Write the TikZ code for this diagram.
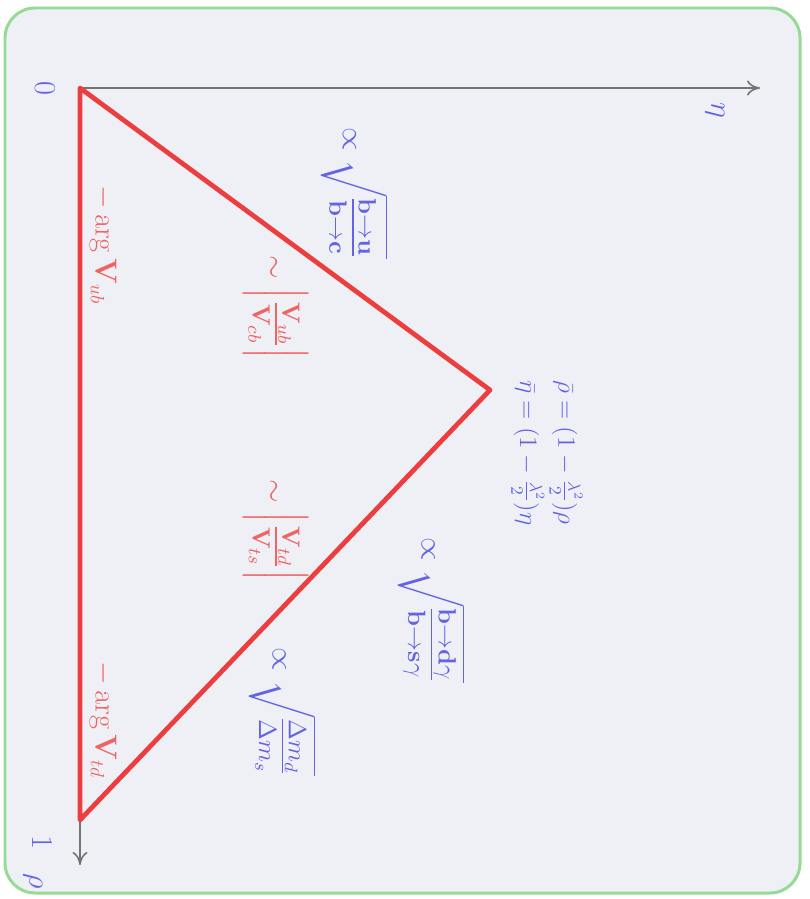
\documentclass[tikz,border=0pt]{standalone}
\usepackage{amsmath,amssymb}
\usepackage{tikz}
\usetikzlibrary{arrows.meta}
\usepackage{xcolor}
\definecolor{trired}{RGB}{236,62,62}
\definecolor{lblred}{RGB}{238,100,100}
\definecolor{lblblue}{RGB}{100,100,226}
\definecolor{axgray}{RGB}{115,115,115}
\definecolor{framegreen}{RGB}{150,218,150}
\definecolor{bgpaper}{RGB}{238,240,246}
\newcommand{\labfrac}[1]{\scalebox{1.3}{$#1$}}

\begin{document}
\begin{tikzpicture}[>={To[length=2.6mm,width=3mm]},font=\fontsize{16}{19}\selectfont,line cap=round,
  axis/.style={->,axgray,line width=0.9pt},
  side/.style={trired,line width=2.7pt,line join=round},
  redlbl/.style={text=lblred,inner sep=1pt},
  bluelbl/.style={text=lblblue,inner sep=1pt}]
\useasboundingbox (0,0) rectangle (16.18,-17.98);
\fill[bgpaper,draw=framegreen,line width=1.7pt,rounded corners=0.6cm] (0.1,-0.16) rectangle (16.0,-17.86);
\begin{scope}[shift={(1.6,-1.76)},rotate=-90,transform shape]
% corners and axis tips, drawn as (rho,eta)
\coordinate (O) at (0,0);
\coordinate (R) at (14.64,0);
\coordinate (A) at (6.04,8.2);
\coordinate (rhotip) at (15.54,0);
\coordinate (etatip) at (0,13.6);
\draw[axis] (O) -- (rhotip);
\draw[axis] (O) -- (etatip);
\draw[side] (O) -- (A) -- (R) -- cycle;
% axis labels
\node[bluelbl] (zero) at (0,-0.7) {$0$};
\node[bluelbl] (one) at (15.08,-0.76) {$1$};
\node[bluelbl] (rholbl) at (15.86,-0.94) {$\rho$};
\node[bluelbl] (etalbl) at (0.44,12.7) {$\eta$};
% angles at the base
\node[redlbl] (argub) at (3.14,0.46) {$-\arg\mathbf{V}_{ub}$};
\node[redlbl] (argtd) at (12.64,0.46) {$-\arg\mathbf{V}_{td}$};
% sides
\node[redlbl] (vub) at (4.4,3.92) {$\sim\labfrac{\left|\frac{\mathbf{V}_{ub}}{\mathbf{V}_{cb}}\right|}$};
\node[redlbl] (vtd) at (8.85,3.92) {$\sim\labfrac{\left|\frac{\mathbf{V}_{td}}{\mathbf{V}_{ts}}\right|}$};
\node[bluelbl] (bu) at (2.1,5.5) {$\propto\labfrac{\sqrt{\frac{\mathbf{b}\to\mathbf{u}}{\mathbf{b}\to\mathbf{c}}}}$};
\node[bluelbl] (bdg) at (10.44,7.04) {$\propto\labfrac{\sqrt{\frac{\mathbf{b}\to\mathbf{d}\gamma}{\mathbf{b}\to\mathbf{s}\gamma}}}$};
\node[bluelbl] (dm) at (12.48,4.06) {$\propto\labfrac{\sqrt{\frac{\Delta m_d}{\Delta m_s}}}$};
% apex
\node[bluelbl,align=left,font=\fontsize{14.4}{17}\selectfont] (apex) at (7.3,9.34)
  {$\bar\rho=(1-\frac{\lambda^2}{2})\rho$\\[2pt]$\bar\eta=(1-\frac{\lambda^2}{2})\eta$};
\end{scope}
\end{tikzpicture}
\end{document}
